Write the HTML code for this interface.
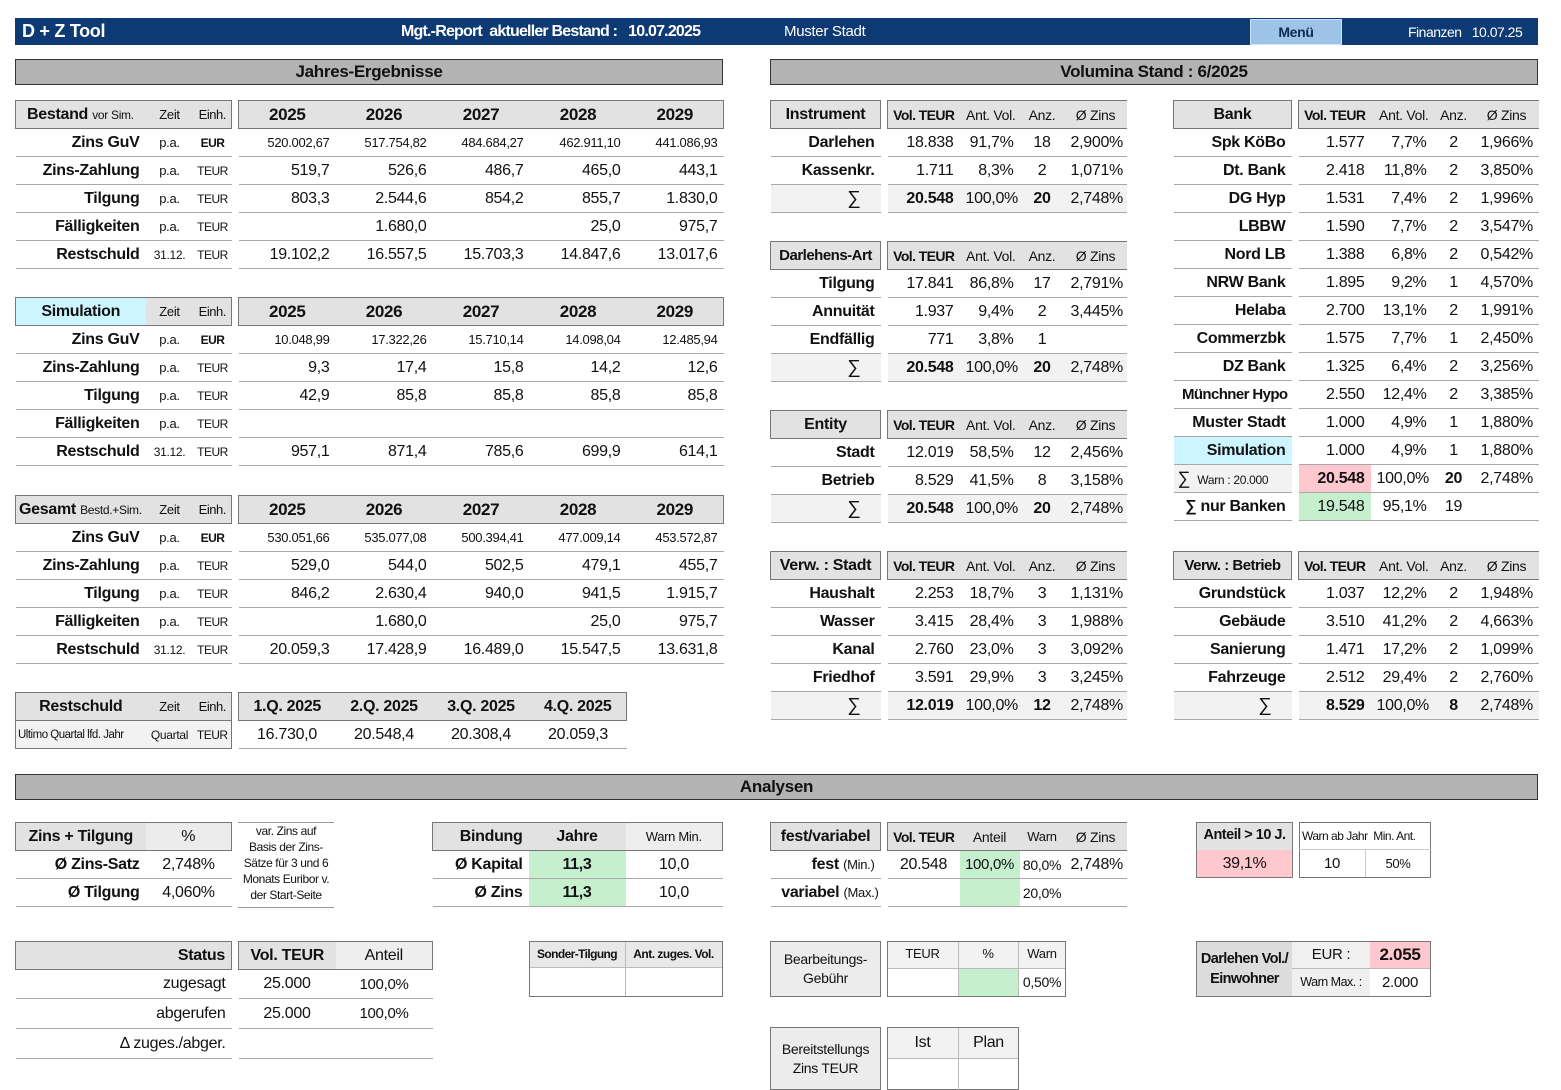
<!DOCTYPE html>
<html><head><meta charset="utf-8">
<style>
body{margin:0;width:1561px;height:1090px;background:#fff;position:relative;overflow:hidden;font-family:"Liberation Sans Narrow","Liberation Sans",sans-serif;color:#111;letter-spacing:-0.3px}
.ab{position:absolute;white-space:nowrap}
.bar{position:absolute;background:#b3b3b3;border:1px solid #333;font-weight:bold;font-size:17px;text-align:center;line-height:24px;height:24px;box-sizing:content-box}
table.tb{position:absolute;border-collapse:collapse;table-layout:fixed}
.tb td{height:27px;padding:0 6px;white-space:nowrap;overflow:hidden;border-bottom:1px solid #a8a8a8;font-size:16px}
.tb td.gp{border:none;padding:0;background:#fff}
.tb td.hd{background:#e2e2e2;border-top:1px solid #777;border-bottom:1px solid #777}
.tb td.bl{border-left:1px solid #777}.tb td.br{border-right:1px solid #777}
.r{text-align:right}.c{text-align:center}.b{font-weight:bold}
.s{font-size:13px!important}.xs{font-size:12px!important}
.u{font-size:12px!important;padding:0!important;text-align:center;letter-spacing:-0.5px}
.v{font-size:14px!important;padding:0!important;text-align:center;font-weight:bold;letter-spacing:-0.6px}
.y{font-weight:bold;font-size:17px!important;text-align:center}
.sg{background:#f2f2f2}
.cy{background:#ccf5ff!important}
.pk{background:#ffc7ce!important}
.gr{background:#c6efce!important}
.box{position:absolute;border:1px solid #777;box-sizing:border-box}
</style></head><body>

<div class="ab" style="left:15px;top:18px;width:1523px;height:27px;background:#0d3a72"></div>
<div class="ab b" style="left:22px;top:21px;color:#fff;font-size:18px">D + Z Tool</div>
<div class="ab b" style="left:401px;top:23px;color:#fff;font-size:16px;letter-spacing:-0.8px">Mgt.-Report&nbsp; aktueller Bestand :&nbsp;&nbsp; 10.07.2025</div>
<div class="ab" style="left:784px;top:23px;color:#fff;font-size:15px">Muster Stadt</div>
<div class="ab b" style="left:1250px;top:19px;width:90px;height:24px;background:#9dc3e6;border:1px solid #d0e4f5;color:#0d2a55;font-size:14px;text-align:center;line-height:24px">Menü</div>
<div class="ab" style="left:1408px;top:24px;color:#fff;font-size:14px;letter-spacing:-0.5px">Finanzen&nbsp;&nbsp; 10.07.25</div>

<div class="bar" style="left:15px;top:59px;width:706px">Jahres-Ergebnisse</div>
<div class="bar" style="left:770px;top:59px;width:766px">Volumina Stand : 6/2025</div>

<!-- Bestand -->
<table class="tb" style="left:15px;top:100px;width:708px">
<colgroup><col style="width:130px"><col style="width:48px"><col style="width:38px"><col style="width:7px"><col style="width:97px"><col style="width:97px"><col style="width:97px"><col style="width:97px"><col style="width:97px"></colgroup>
<tr><td class="hd bl" style="padding-left:11px"><b>Bestand</b> <span class="xs">vor Sim.</span></td><td class="hd c s">Zeit</td><td class="hd u br" style="font-size:13px!important">Einh.</td><td class="gp"></td><td class="hd y bl">2025</td><td class="hd y">2026</td><td class="hd y">2027</td><td class="hd y">2028</td><td class="hd y br">2029</td></tr>
<tr><td class="r b">Zins GuV</td><td class="c s">p.a.</td><td class="u b">EUR</td><td class="gp"></td><td class="r s">520.002,67</td><td class="r s">517.754,82</td><td class="r s">484.684,27</td><td class="r s">462.911,10</td><td class="r s">441.086,93</td></tr>
<tr><td class="r b">Zins-Zahlung</td><td class="c s">p.a.</td><td class="u">TEUR</td><td class="gp"></td><td class="r">519,7</td><td class="r">526,6</td><td class="r">486,7</td><td class="r">465,0</td><td class="r">443,1</td></tr>
<tr><td class="r b">Tilgung</td><td class="c s">p.a.</td><td class="u">TEUR</td><td class="gp"></td><td class="r">803,3</td><td class="r">2.544,6</td><td class="r">854,2</td><td class="r">855,7</td><td class="r">1.830,0</td></tr>
<tr><td class="r b">Fälligkeiten</td><td class="c s">p.a.</td><td class="u">TEUR</td><td class="gp"></td><td class="r"></td><td class="r">1.680,0</td><td class="r"></td><td class="r">25,0</td><td class="r">975,7</td></tr>
<tr><td class="r b">Restschuld</td><td class="c xs">31.12.</td><td class="u">TEUR</td><td class="gp"></td><td class="r">19.102,2</td><td class="r">16.557,5</td><td class="r">15.703,3</td><td class="r">14.847,6</td><td class="r">13.017,6</td></tr>
</table>

<!-- Simulation -->
<table class="tb" style="left:15px;top:297px;width:708px">
<colgroup><col style="width:130px"><col style="width:48px"><col style="width:38px"><col style="width:7px"><col style="width:97px"><col style="width:97px"><col style="width:97px"><col style="width:97px"><col style="width:97px"></colgroup>
<tr><td class="hd bl cy c b">Simulation</td><td class="hd c s">Zeit</td><td class="hd u br" style="font-size:13px!important">Einh.</td><td class="gp"></td><td class="hd y bl">2025</td><td class="hd y">2026</td><td class="hd y">2027</td><td class="hd y">2028</td><td class="hd y br">2029</td></tr>
<tr><td class="r b">Zins GuV</td><td class="c s">p.a.</td><td class="u b">EUR</td><td class="gp"></td><td class="r s">10.048,99</td><td class="r s">17.322,26</td><td class="r s">15.710,14</td><td class="r s">14.098,04</td><td class="r s">12.485,94</td></tr>
<tr><td class="r b">Zins-Zahlung</td><td class="c s">p.a.</td><td class="u">TEUR</td><td class="gp"></td><td class="r">9,3</td><td class="r">17,4</td><td class="r">15,8</td><td class="r">14,2</td><td class="r">12,6</td></tr>
<tr><td class="r b">Tilgung</td><td class="c s">p.a.</td><td class="u">TEUR</td><td class="gp"></td><td class="r">42,9</td><td class="r">85,8</td><td class="r">85,8</td><td class="r">85,8</td><td class="r">85,8</td></tr>
<tr><td class="r b">Fälligkeiten</td><td class="c s">p.a.</td><td class="u">TEUR</td><td class="gp"></td><td></td><td></td><td></td><td></td><td></td></tr>
<tr><td class="r b">Restschuld</td><td class="c xs">31.12.</td><td class="u">TEUR</td><td class="gp"></td><td class="r">957,1</td><td class="r">871,4</td><td class="r">785,6</td><td class="r">699,9</td><td class="r">614,1</td></tr>
</table>

<!-- Gesamt -->
<table class="tb" style="left:15px;top:495px;width:708px">
<colgroup><col style="width:130px"><col style="width:48px"><col style="width:38px"><col style="width:7px"><col style="width:97px"><col style="width:97px"><col style="width:97px"><col style="width:97px"><col style="width:97px"></colgroup>
<tr><td class="hd bl" style="padding-left:3px"><b>Gesamt</b> <span class="xs">Bestd.+Sim.</span></td><td class="hd c s">Zeit</td><td class="hd u br" style="font-size:13px!important">Einh.</td><td class="gp"></td><td class="hd y bl">2025</td><td class="hd y">2026</td><td class="hd y">2027</td><td class="hd y">2028</td><td class="hd y br">2029</td></tr>
<tr><td class="r b">Zins GuV</td><td class="c s">p.a.</td><td class="u b">EUR</td><td class="gp"></td><td class="r s">530.051,66</td><td class="r s">535.077,08</td><td class="r s">500.394,41</td><td class="r s">477.009,14</td><td class="r s">453.572,87</td></tr>
<tr><td class="r b">Zins-Zahlung</td><td class="c s">p.a.</td><td class="u">TEUR</td><td class="gp"></td><td class="r">529,0</td><td class="r">544,0</td><td class="r">502,5</td><td class="r">479,1</td><td class="r">455,7</td></tr>
<tr><td class="r b">Tilgung</td><td class="c s">p.a.</td><td class="u">TEUR</td><td class="gp"></td><td class="r">846,2</td><td class="r">2.630,4</td><td class="r">940,0</td><td class="r">941,5</td><td class="r">1.915,7</td></tr>
<tr><td class="r b">Fälligkeiten</td><td class="c s">p.a.</td><td class="u">TEUR</td><td class="gp"></td><td class="r"></td><td class="r">1.680,0</td><td class="r"></td><td class="r">25,0</td><td class="r">975,7</td></tr>
<tr><td class="r b">Restschuld</td><td class="c xs">31.12.</td><td class="u">TEUR</td><td class="gp"></td><td class="r">20.059,3</td><td class="r">17.428,9</td><td class="r">16.489,0</td><td class="r">15.547,5</td><td class="r">13.631,8</td></tr>
</table>

<!-- Restschuld quartal -->
<table class="tb" style="left:15px;top:692px;width:611px">
<colgroup><col style="width:130px"><col style="width:48px"><col style="width:38px"><col style="width:7px"><col style="width:97px"><col style="width:97px"><col style="width:97px"><col style="width:97px"></colgroup>
<tr><td class="hd bl c b">Restschuld</td><td class="hd c s">Zeit</td><td class="hd u br" style="font-size:13px!important">Einh.</td><td class="gp"></td><td class="hd y bl" style="font-size:16px!important">1.Q. 2025</td><td class="hd y" style="font-size:16px!important">2.Q. 2025</td><td class="hd y" style="font-size:16px!important">3.Q. 2025</td><td class="hd y br" style="font-size:16px!important">4.Q. 2025</td></tr>
<tr><td class="sg bl" style="padding:0 2px;border-bottom:1px solid #777;font-size:11.5px;letter-spacing:-0.5px">Ultimo Quartal lfd. Jahr</td><td class="c xs sg" style="border-bottom:1px solid #777;padding:0">Quartal</td><td class="u sg br" style="border-bottom:1px solid #777">TEUR</td><td class="gp"></td><td class="c">16.730,0</td><td class="c">20.548,4</td><td class="c">20.308,4</td><td class="c">20.059,3</td></tr>
</table>

<!-- Instrument -->
<table class="tb" style="left:770px;top:100px;width:356px">
<colgroup><col style="width:110px"><col style="width:7px"><col style="width:72px"><col style="width:60px"><col style="width:45px"><col style="width:62px"></colgroup>
<tr><td class="hd bl br c b">Instrument</td><td class="gp"></td><td class="hd bl v">Vol. TEUR</td><td class="hd r" style="font-size:14px;padding:0 4px 0 0">Ant. Vol.</td><td class="hd c" style="font-size:14px">Anz.</td><td class="hd c" style="font-size:14px">Ø Zins</td></tr>
<tr><td class="r b">Darlehen</td><td class="gp"></td><td class="r">18.838</td><td class="r">91,7%</td><td class="c">18</td><td class="r">2,900%</td></tr>
<tr><td class="r b">Kassenkr.</td><td class="gp"></td><td class="r">1.711</td><td class="r">8,3%</td><td class="c">2</td><td class="r">1,071%</td></tr>
<tr><td class="r sg" style="padding-right:20px;font-size:19px">∑</td><td class="gp"></td><td class="r b sg">20.548</td><td class="r sg">100,0%</td><td class="c b sg">20</td><td class="r sg">2,748%</td></tr>
</table>

<!-- Darlehens-Art -->
<table class="tb" style="left:770px;top:241px;width:356px">
<colgroup><col style="width:110px"><col style="width:7px"><col style="width:72px"><col style="width:60px"><col style="width:45px"><col style="width:62px"></colgroup>
<tr><td class="hd bl br c b" style="padding:0;font-size:15px;letter-spacing:-0.5px">Darlehens-Art</td><td class="gp"></td><td class="hd bl v">Vol. TEUR</td><td class="hd r" style="font-size:14px;padding:0 4px 0 0">Ant. Vol.</td><td class="hd c" style="font-size:14px">Anz.</td><td class="hd c" style="font-size:14px">Ø Zins</td></tr>
<tr><td class="r b">Tilgung</td><td class="gp"></td><td class="r">17.841</td><td class="r">86,8%</td><td class="c">17</td><td class="r">2,791%</td></tr>
<tr><td class="r b">Annuität</td><td class="gp"></td><td class="r">1.937</td><td class="r">9,4%</td><td class="c">2</td><td class="r">3,445%</td></tr>
<tr><td class="r b">Endfällig</td><td class="gp"></td><td class="r">771</td><td class="r">3,8%</td><td class="c">1</td><td class="r"></td></tr>
<tr><td class="r sg" style="padding-right:20px;font-size:19px">∑</td><td class="gp"></td><td class="r b sg">20.548</td><td class="r sg">100,0%</td><td class="c b sg">20</td><td class="r sg">2,748%</td></tr>
</table>

<!-- Entity -->
<table class="tb" style="left:770px;top:410px;width:356px">
<colgroup><col style="width:110px"><col style="width:7px"><col style="width:72px"><col style="width:60px"><col style="width:45px"><col style="width:62px"></colgroup>
<tr><td class="hd bl br c b">Entity</td><td class="gp"></td><td class="hd bl v">Vol. TEUR</td><td class="hd r" style="font-size:14px;padding:0 4px 0 0">Ant. Vol.</td><td class="hd c" style="font-size:14px">Anz.</td><td class="hd c" style="font-size:14px">Ø Zins</td></tr>
<tr><td class="r b">Stadt</td><td class="gp"></td><td class="r">12.019</td><td class="r">58,5%</td><td class="c">12</td><td class="r">2,456%</td></tr>
<tr><td class="r b">Betrieb</td><td class="gp"></td><td class="r">8.529</td><td class="r">41,5%</td><td class="c">8</td><td class="r">3,158%</td></tr>
<tr><td class="r sg" style="padding-right:20px;font-size:19px">∑</td><td class="gp"></td><td class="r b sg">20.548</td><td class="r sg">100,0%</td><td class="c b sg">20</td><td class="r sg">2,748%</td></tr>
</table>

<!-- Verw Stadt -->
<table class="tb" style="left:770px;top:551px;width:356px">
<colgroup><col style="width:110px"><col style="width:7px"><col style="width:72px"><col style="width:60px"><col style="width:45px"><col style="width:62px"></colgroup>
<tr><td class="hd bl br c b" style="padding:0">Verw. : Stadt</td><td class="gp"></td><td class="hd bl v">Vol. TEUR</td><td class="hd r" style="font-size:14px;padding:0 4px 0 0">Ant. Vol.</td><td class="hd c" style="font-size:14px">Anz.</td><td class="hd c" style="font-size:14px">Ø Zins</td></tr>
<tr><td class="r b">Haushalt</td><td class="gp"></td><td class="r">2.253</td><td class="r">18,7%</td><td class="c">3</td><td class="r">1,131%</td></tr>
<tr><td class="r b">Wasser</td><td class="gp"></td><td class="r">3.415</td><td class="r">28,4%</td><td class="c">3</td><td class="r">1,988%</td></tr>
<tr><td class="r b">Kanal</td><td class="gp"></td><td class="r">2.760</td><td class="r">23,0%</td><td class="c">3</td><td class="r">3,092%</td></tr>
<tr><td class="r b">Friedhof</td><td class="gp"></td><td class="r">3.591</td><td class="r">29,9%</td><td class="c">3</td><td class="r">3,245%</td></tr>
<tr><td class="r sg" style="padding-right:20px;font-size:19px">∑</td><td class="gp"></td><td class="r b sg">12.019</td><td class="r sg">100,0%</td><td class="c b sg">12</td><td class="r sg">2,748%</td></tr>
</table>

<!-- Bank -->
<table class="tb" style="left:1173px;top:100px;width:365px">
<colgroup><col style="width:118px"><col style="width:7px"><col style="width:72px"><col style="width:62px"><col style="width:42px"><col style="width:64px"></colgroup>
<tr><td class="hd bl br c b">Bank</td><td class="gp"></td><td class="hd bl v">Vol. TEUR</td><td class="hd r" style="font-size:14px;padding:0 4px 0 0">Ant. Vol.</td><td class="hd c" style="font-size:14px;padding:0">Anz.</td><td class="hd c" style="font-size:14px">Ø Zins</td></tr>
<tr><td class="r b">Spk KöBo</td><td class="gp"></td><td class="r">1.577</td><td class="r">7,7%</td><td class="c">2</td><td class="r">1,966%</td></tr>
<tr><td class="r b">Dt. Bank</td><td class="gp"></td><td class="r">2.418</td><td class="r">11,8%</td><td class="c">2</td><td class="r">3,850%</td></tr>
<tr><td class="r b">DG Hyp</td><td class="gp"></td><td class="r">1.531</td><td class="r">7,4%</td><td class="c">2</td><td class="r">1,996%</td></tr>
<tr><td class="r b">LBBW</td><td class="gp"></td><td class="r">1.590</td><td class="r">7,7%</td><td class="c">2</td><td class="r">3,547%</td></tr>
<tr><td class="r b">Nord LB</td><td class="gp"></td><td class="r">1.388</td><td class="r">6,8%</td><td class="c">2</td><td class="r">0,542%</td></tr>
<tr><td class="r b">NRW Bank</td><td class="gp"></td><td class="r">1.895</td><td class="r">9,2%</td><td class="c">1</td><td class="r">4,570%</td></tr>
<tr><td class="r b">Helaba</td><td class="gp"></td><td class="r">2.700</td><td class="r">13,1%</td><td class="c">2</td><td class="r">1,991%</td></tr>
<tr><td class="r b">Commerzbk</td><td class="gp"></td><td class="r">1.575</td><td class="r">7,7%</td><td class="c">1</td><td class="r">2,450%</td></tr>
<tr><td class="r b">DZ Bank</td><td class="gp"></td><td class="r">1.325</td><td class="r">6,4%</td><td class="c">2</td><td class="r">3,256%</td></tr>
<tr><td class="r b" style="font-size:15px;padding:0 4px 0 0;letter-spacing:-0.6px">Münchner Hypo</td><td class="gp"></td><td class="r">2.550</td><td class="r">12,4%</td><td class="c">2</td><td class="r">3,385%</td></tr>
<tr><td class="r b">Muster Stadt</td><td class="gp"></td><td class="r">1.000</td><td class="r">4,9%</td><td class="c">1</td><td class="r">1,880%</td></tr>
<tr><td class="r b cy">Simulation</td><td class="gp"></td><td class="r">1.000</td><td class="r">4,9%</td><td class="c">1</td><td class="r">1,880%</td></tr>
<tr><td class="sg" style="padding-left:4px"><span style="font-size:18px">∑</span> <span class="xs">&nbsp;Warn : 20.000</span></td><td class="gp"></td><td class="r b pk">20.548</td><td class="r">100,0%</td><td class="c b">20</td><td class="r">2,748%</td></tr>
<tr><td class="r b">∑ nur Banken</td><td class="gp"></td><td class="r gr">19.548</td><td class="r">95,1%</td><td class="c">19</td><td class="r"></td></tr>
</table>

<!-- Verw Betrieb -->
<table class="tb" style="left:1173px;top:551px;width:365px">
<colgroup><col style="width:118px"><col style="width:7px"><col style="width:72px"><col style="width:62px"><col style="width:42px"><col style="width:64px"></colgroup>
<tr><td class="hd bl br c b" style="padding:0;font-size:15px;letter-spacing:-0.5px">Verw. : Betrieb</td><td class="gp"></td><td class="hd bl v">Vol. TEUR</td><td class="hd r" style="font-size:14px;padding:0 4px 0 0">Ant. Vol.</td><td class="hd c" style="font-size:14px;padding:0">Anz.</td><td class="hd c" style="font-size:14px">Ø Zins</td></tr>
<tr><td class="r b">Grundstück</td><td class="gp"></td><td class="r">1.037</td><td class="r">12,2%</td><td class="c">2</td><td class="r">1,948%</td></tr>
<tr><td class="r b">Gebäude</td><td class="gp"></td><td class="r">3.510</td><td class="r">41,2%</td><td class="c">2</td><td class="r">4,663%</td></tr>
<tr><td class="r b">Sanierung</td><td class="gp"></td><td class="r">1.471</td><td class="r">17,2%</td><td class="c">2</td><td class="r">1,099%</td></tr>
<tr><td class="r b">Fahrzeuge</td><td class="gp"></td><td class="r">2.512</td><td class="r">29,4%</td><td class="c">2</td><td class="r">2,760%</td></tr>
<tr><td class="r sg" style="padding-right:20px;font-size:19px">∑</td><td class="gp"></td><td class="r b sg">8.529</td><td class="r sg">100,0%</td><td class="c b sg">8</td><td class="r sg">2,748%</td></tr>
</table>

<div class="bar" style="left:15px;top:774px;width:1521px">Analysen</div>

<!-- Zins + Tilgung -->
<table class="tb" style="left:15px;top:822px;width:216px">
<colgroup><col style="width:130px"><col style="width:86px"></colgroup>
<tr><td class="hd bl c b">Zins + Tilgung</td><td class="hd br c" style="background:#ececec">%</td></tr>
<tr><td class="r b">Ø Zins-Satz</td><td class="c">2,748%</td></tr>
<tr><td class="r b">Ø Tilgung</td><td class="c">4,060%</td></tr>
</table>
<div class="ab" style="left:238px;top:822px;width:96px;height:84px;border-top:1px solid #999;border-bottom:1px solid #999;font-size:12px;line-height:16px;text-align:center;letter-spacing:-0.4px;overflow:hidden">var. Zins auf<br>Basis der Zins-<br>Sätze für 3 und 6<br>Monats Euribor v.<br>der Start-Seite</div>

<!-- Bindung -->
<table class="tb" style="left:432px;top:822px;width:290px">
<colgroup><col style="width:96px"><col style="width:97px"><col style="width:97px"></colgroup>
<tr><td class="hd bl r b">Bindung</td><td class="hd c b">Jahre</td><td class="hd br c s" style="background:#eeeeee">Warn Min.</td></tr>
<tr><td class="r b">Ø Kapital</td><td class="c b gr">11,3</td><td class="c">10,0</td></tr>
<tr><td class="r b">Ø Zins</td><td class="c b gr">11,3</td><td class="c">10,0</td></tr>
</table>

<!-- fest/variabel -->
<table class="tb" style="left:770px;top:822px;width:356px">
<colgroup><col style="width:110px"><col style="width:7px"><col style="width:72px"><col style="width:60px"><col style="width:45px"><col style="width:62px"></colgroup>
<tr><td class="hd bl br c b" style="padding:0">fest/variabel</td><td class="gp"></td><td class="hd bl v">Vol. TEUR</td><td class="hd c" style="font-size:14px">Anteil</td><td class="hd c s" style="padding:0">Warn</td><td class="hd c" style="font-size:14px">Ø Zins</td></tr>
<tr><td class="r"><b>fest</b> <span class="s">(Min.)</span></td><td class="gp"></td><td class="c">20.548</td><td class="c gr" style="padding:0;font-size:15px">100,0%</td><td class="c" style="font-size:14px;padding:0">80,0%</td><td class="c">2,748%</td></tr>
<tr><td class="r" style="padding-right:2px"><b>variabel</b> <span class="s">(Max.)</span></td><td class="gp"></td><td></td><td class="gr"></td><td class="c" style="font-size:14px;padding:0">20,0%</td><td></td></tr>
</table>

<!-- Anteil > 10 J -->
<div class="box" style="left:1196px;top:822px;width:97px;height:56px;background:#e2e2e2"></div>
<div class="ab b" style="left:1196px;top:827px;width:97px;text-align:center;font-size:14.5px;letter-spacing:-0.5px">Anteil &gt; 10 J.</div>
<div class="ab pk" style="left:1197px;top:850px;width:95px;height:27px;text-align:center;line-height:27px;font-size:16px">39,1%</div>
<div class="box" style="left:1299px;top:822px;width:132px;height:56px"></div>
<div class="ab" style="left:1299px;top:849px;width:132px;border-top:1px solid #ccc"></div>
<div class="ab" style="left:1365px;top:849px;height:28px;border-left:1px solid #ccc"></div>
<div class="ab" style="left:1302px;top:829px;font-size:12px;letter-spacing:-0.5px">Warn ab Jahr&nbsp; Min. Ant.</div>
<div class="ab" style="left:1299px;top:855px;width:66px;text-align:center;font-size:15px">10</div>
<div class="ab" style="left:1365px;top:856px;width:66px;text-align:center;font-size:13px">50%</div>

<!-- Status -->
<table class="tb" style="left:15px;top:941px;width:417px">
<colgroup><col style="width:216px"><col style="width:7px"><col style="width:97px"><col style="width:97px"></colgroup>
<tr><td class="hd bl br r b">Status</td><td class="gp"></td><td class="hd bl b c">Vol. TEUR</td><td class="hd br c" style="background:#eeeeee">Anteil</td></tr>
<tr><td class="r" style="height:28px">zugesagt</td><td class="gp"></td><td class="c">25.000</td><td class="c" style="font-size:15px">100,0%</td></tr>
<tr><td class="r" style="height:29px">abgerufen</td><td class="gp"></td><td class="c">25.000</td><td class="c" style="font-size:15px">100,0%</td></tr>
<tr><td class="r" style="height:29px">Δ zuges./abger.</td><td class="gp"></td><td></td><td></td></tr>
</table>

<!-- Sonder-Tilgung -->
<div class="box" style="left:529px;top:941px;width:194px;height:56px"></div>
<div class="ab" style="left:530px;top:942px;width:192px;height:25px;background:#e8e8e8;border-bottom:1px solid #bbb"></div>
<div class="ab" style="left:625px;top:942px;height:54px;border-left:1px solid #bbb"></div>
<div class="ab b" style="left:529px;top:947px;width:96px;text-align:center;font-size:12px;letter-spacing:-0.6px">Sonder-Tilgung</div>
<div class="ab b" style="left:625px;top:947px;width:97px;text-align:center;font-size:12px;letter-spacing:-0.5px">Ant. zuges. Vol.</div>

<!-- Bearbeitungs-Gebühr -->
<div class="box" style="left:770px;top:941px;width:111px;height:56px;background:#ececec"></div>
<div class="ab" style="left:770px;top:950px;width:111px;text-align:center;font-size:14px;line-height:19px">Bearbeitungs-<br>Gebühr</div>
<div class="box" style="left:887px;top:941px;width:179px;height:56px"></div>
<div class="ab" style="left:888px;top:942px;width:177px;height:26px;background:#f2f2f2;border-bottom:1px solid #bbb"></div>
<div class="ab" style="left:958px;top:942px;height:54px;border-left:1px solid #bbb"></div>
<div class="ab" style="left:1018px;top:942px;height:54px;border-left:1px solid #bbb"></div>
<div class="ab gr" style="left:959px;top:969px;width:59px;height:27px"></div>
<div class="ab" style="left:887px;top:946px;width:71px;text-align:center;font-size:13px">TEUR</div>
<div class="ab" style="left:958px;top:946px;width:60px;text-align:center;font-size:13px">%</div>
<div class="ab" style="left:1018px;top:946px;width:48px;text-align:center;font-size:13px">Warn</div>
<div class="ab" style="left:1018px;top:974px;width:48px;text-align:center;font-size:14px">0,50%</div>

<!-- Darlehen Vol./Einwohner -->
<div class="box" style="left:1196px;top:941px;width:235px;height:56px"></div>
<div class="ab" style="left:1197px;top:942px;width:95px;height:54px;background:#dcdcdc"></div>
<div class="ab b" style="left:1196px;top:949px;width:97px;text-align:center;font-size:14.5px;line-height:20px;letter-spacing:-0.6px">Darlehen Vol./<br>Einwohner</div>
<div class="ab" style="left:1292px;top:942px;width:78px;height:26px;background:#f0f0f0;border-bottom:1px solid #bbb"></div>
<div class="ab" style="left:1292px;top:969px;width:78px;height:27px;background:#f0f0f0"></div>
<div class="ab pk" style="left:1370px;top:942px;width:60px;height:26px;border-bottom:1px solid #bbb"></div>
<div class="ab" style="left:1292px;top:946px;width:78px;text-align:center;font-size:15px">EUR :</div>
<div class="ab b" style="left:1370px;top:945px;width:60px;text-align:center;font-size:17px">2.055</div>
<div class="ab" style="left:1292px;top:975px;width:78px;text-align:center;font-size:12.5px;letter-spacing:-0.5px">Warn Max. :</div>
<div class="ab" style="left:1370px;top:974px;width:60px;text-align:center;font-size:15px">2.000</div>

<!-- Bereitstellungs -->
<div class="box" style="left:770px;top:1027px;width:111px;height:63px;background:#ececec"></div>
<div class="ab" style="left:770px;top:1040px;width:111px;text-align:center;font-size:14px;line-height:19px">Bereitstellungs<br>Zins TEUR</div>
<div class="box" style="left:887px;top:1027px;width:132px;height:63px"></div>
<div class="ab" style="left:888px;top:1028px;width:130px;height:30px;background:#f2f2f2;border-bottom:1px solid #bbb"></div>
<div class="ab" style="left:958px;top:1028px;height:62px;border-left:1px solid #bbb"></div>
<div class="ab" style="left:887px;top:1034px;width:71px;text-align:center;font-size:16px">Ist</div>
<div class="ab" style="left:958px;top:1034px;width:61px;text-align:center;font-size:16px">Plan</div>

</body></html>
